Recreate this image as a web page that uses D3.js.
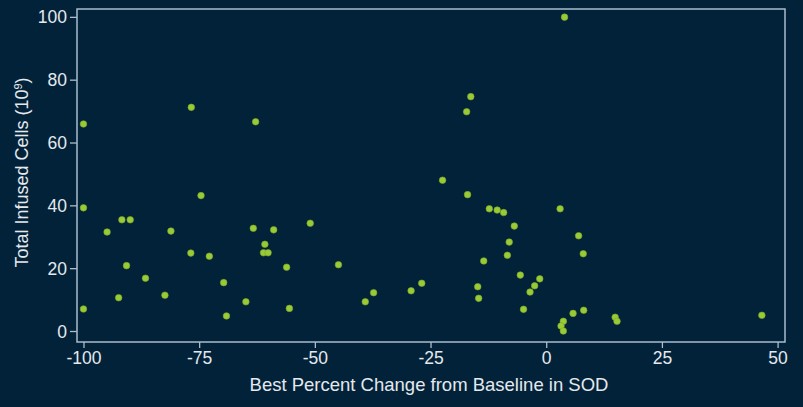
<!DOCTYPE html>
<html lang="en">
<head>
<meta charset="UTF-8">
<title>SOD change vs infused cells</title>
<script src="https://cdn.jsdelivr.net/npm/d3@7"></script>
<style>
  body { margin: 0; background: #022239; }
  text { font-family: "Liberation Sans", Arial, sans-serif; fill: #e4e9ee; }
</style>
</head>
<body>
<script>
// best percent change from baseline in SOD
var pctChange = [-100, -100, -100, -94.9, -91.7, -89.9, -90.7, -92.4, -86.6, -82.4,
  -81.1, -76.7, -76.8, -74.6, -72.8, -69.7, -69.1, -64.9, -63.3, -62.8,
  -61.1, -60.1, -60.8, -58.9, -56.1, -55.5, -51.0, -44.9, -39.1, -37.3,
  -29.2, -26.9, -22.4, -17.0, -17.2, -16.3, -12.3, -10.6, -9.2, -13.5,
  -14.8, -14.6, -6.9, -8.0, -8.4, -5.6, -4.9, -3.5, -2.5, -1.4,
  3.0, 3.96, 7.0, 8.0, 5.8, 8.1, 3.7, 3.2, 3.7, 14.9,
  15.3, 46.6];
// total infused cells (10^9)
var infused = [65.9, 39.2, 7.0, 31.5, 35.4, 35.4, 20.8, 10.6, 16.8, 11.4,
  31.8, 71.2, 24.8, 43.1, 23.8, 15.4, 4.8, 9.3, 32.7, 66.6,
  24.9, 24.9, 27.6, 32.2, 20.3, 7.2, 34.3, 21.1, 9.3, 12.2,
  12.8, 15.2, 48.0, 43.4, 69.8, 74.6, 38.9, 38.5, 37.7, 22.3,
  14.1, 10.4, 33.4, 28.3, 24.1, 17.8, 6.9, 12.4, 14.4, 16.6,
  38.9, 99.9, 30.3, 24.6, 5.6, 6.6, 3.1, 1.6, 0, 4.4,
  3.1, 5.0];
var xTicks = [-100, -75, -50, -25, 0, 25, 50];
var yTicks = [0, 20, 40, 60, 80, 100];

var width = 803, height = 407;
var plotL = 77, plotR = 785, plotT = 9, plotB = 342;

var x = d3.scaleLinear().domain([-101.4, 51.6]).range([plotL, plotR]);
var y = d3.scaleLinear().domain([-3.5, 102.5]).range([plotB, plotT]);

var svg = d3.select("body").append("svg")
  .attr("width", width)
  .attr("height", height);

svg.append("rect")
  .attr("width", width).attr("height", height)
  .attr("fill", "#022239");

var axisColor = "#a9bdcd";

var xAxis = svg.append("g")
  .attr("transform", "translate(0," + plotB + ")")
  .call(d3.axisBottom(x).tickValues(xTicks).tickSize(6).tickPadding(4).tickFormat(d3.format("d")));
var yAxis = svg.append("g")
  .attr("transform", "translate(" + plotL + ",0)")
  .call(d3.axisLeft(y).tickValues(yTicks).tickSize(7).tickPadding(3).tickFormat(d3.format("d")));

[xAxis, yAxis].forEach(function(g) {
  g.select(".domain").remove();
  g.selectAll(".tick line").attr("stroke", axisColor).attr("stroke-width", 1.3);
  g.selectAll(".tick text")
    .attr("fill", "#e4e9ee")
    .style("font-size", "17.5px")
    .style("font-family", "'Liberation Sans', Arial, sans-serif");
});
xAxis.selectAll(".tick text").text(function(d) { return d < 0 ? "-" + Math.abs(d) : d; });
yAxis.selectAll(".tick text").attr("dy", "0.35em");

// frame
svg.append("rect")
  .attr("x", plotL).attr("y", plotT)
  .attr("width", plotR - plotL).attr("height", plotB - plotT)
  .attr("fill", "none")
  .attr("stroke", axisColor)
  .attr("stroke-width", 1.5);

// points
svg.append("g").selectAll("circle")
  .data(pctChange)
  .enter().append("circle")
  .attr("cx", function(d) { return x(d); })
  .attr("cy", function(d, i) { return y(infused[i]); })
  .attr("r", 3.3)
  .attr("fill", "#9acb36")
  .attr("stroke", "#78a82a")
  .attr("stroke-width", 0.6);

// axis titles
svg.append("text")
  .attr("x", (plotL + plotR) / 2 - 2)
  .attr("y", 391)
  .attr("text-anchor", "middle")
  .style("font-size", "18.5px")
  .text("Best Percent Change from Baseline in SOD");

var yt = svg.append("text")
  .attr("transform", "translate(28," + ((plotT + plotB) / 2 - 3) + ") rotate(-90)")
  .attr("text-anchor", "middle")
  .style("font-size", "18px");
yt.append("tspan").text("Total Infused Cells (10");
yt.append("tspan").attr("baseline-shift", "super").style("font-size", "11px").text("9");
yt.append("tspan").text(")");
</script>
</body>
</html>
